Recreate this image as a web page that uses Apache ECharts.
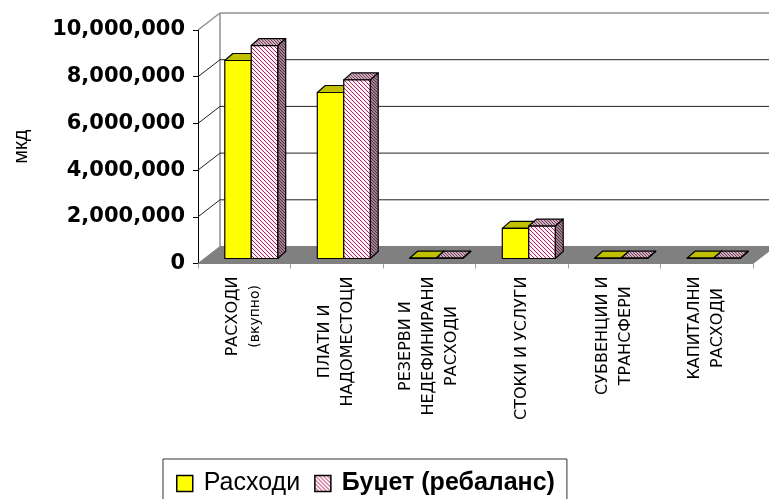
<!DOCTYPE html>
<html>
<head>
<meta charset="utf-8">
<script src="https://cdn.jsdelivr.net/npm/echarts@6/dist/echarts.min.js"></script>
<style>
  * { margin: 0; padding: 0; }
  body { background: #fff; }
  #chart { width: 769px; height: 499px; }
</style>
</head>
<body>
<div id="chart"></div>
<script>
// податоци
var categories = ['РАСХОДИ\n(вкупно)', 'ПЛАТИ И\nНАДОМЕСТОЦИ', 'РЕЗЕРВИ И\nНЕДЕФИНИРАНИ\nРАСХОДИ',
  'СТОКИ И УСЛУГИ', 'СУБВЕНЦИИ И\nТРАНСФЕРИ', 'КАПИТАЛНИ\nРАСХОДИ'];
var rashodi = [8480000, 7110000, 20000, 1290000, 20000, 20000];
var budzet = [9120000, 7650000, 20000, 1390000, 20000, 20000];
var yTicks = [0, 2000000, 4000000, 6000000, 8000000, 10000000];
var seriesNames = ['Расходи', 'Буџет (ребаланс)'];

// 3D offsets (wall depth and bar position/depth)
var WALL_DX = 22, WALL_DY = -17;
var BAR_SX = 7, BAR_SY = -5;
var BAR_DX = 8, BAR_DY = -7;

function hatch(bg, fg, n) {
  var c = document.createElement('canvas');
  c.width = n; c.height = n;
  var ctx = c.getContext('2d');
  ctx.fillStyle = bg;
  ctx.fillRect(0, 0, n, n);
  ctx.fillStyle = fg;
  for (var i = 0; i < n; i++) ctx.fillRect(i, i, 1, 1);
  return { image: c, repeat: 'repeat' };
}

var faces = [
  { front: '#ffff00', top: '#c0c000', side: '#808000' },
  { front: hatch('#fff4f8', '#b02060', 4), top: hatch('#c8b0bc', '#7a3a58', 3), side: hatch('#a08090', '#5a3046', 3) }
];

function barItem(k) {
  return function (params, api) {
    var i = api.value(0), v = api.value(1);
    var base = api.coord([i, 0]);
    var topP = api.coord([i, v]);
    var w = api.size([1, 0])[0] * 0.286;
    var x = base[0] + BAR_SX + (k === 0 ? -w : 0);
    var y0 = base[1] + BAR_SY, y1 = topP[1] + BAR_SY;
    var line = { stroke: '#000', lineWidth: 1.2, lineJoin: 'round' };
    var f = faces[k];
    return {
      type: 'group',
      children: [
        { type: 'polygon', shape: { points: [[x + w, y0], [x + w + BAR_DX, y0 + BAR_DY], [x + w + BAR_DX, y1 + BAR_DY], [x + w, y1]] },
          style: Object.assign({ fill: f.side }, line) },
        { type: 'polygon', shape: { points: [[x, y1], [x + w, y1], [x + w + BAR_DX, y1 + BAR_DY], [x + BAR_DX, y1 + BAR_DY]] },
          style: Object.assign({ fill: f.top }, line) },
        { type: 'rect', shape: { x: x, y: y1, width: w, height: y0 - y1 },
          style: Object.assign({ fill: f.front }, line) }
      ]
    };
  };
}

function wallItem(params, api) {
  var v = api.value(1);
  var cs = params.coordSys;
  var x0 = cs.x, x1 = cs.x + cs.width;
  var y = api.coord([0, v])[1];
  var top = api.coord([0, yTicks[yTicks.length - 1]])[1];
  var isTop = v === yTicks[yTicks.length - 1];
  var children = [];
  if (v === 0) {
    children.push({ type: 'polygon',
      shape: { points: [[x0, y], [x1, y], [x1 + WALL_DX, y + WALL_DY], [x0 + WALL_DX, y + WALL_DY]] },
      style: { fill: '#808080', stroke: '#808080', lineWidth: 1 } });
    children.push({ type: 'line',
      shape: { x1: x0 + WALL_DX, y1: y + WALL_DY, x2: x0 + WALL_DX, y2: top + WALL_DY },
      style: { stroke: '#909090', lineWidth: 1.5 } });
  } else {
    children.push({ type: 'line',
      shape: { x1: x0 + WALL_DX, y1: y + WALL_DY, x2: x1 + WALL_DX, y2: y + WALL_DY },
      style: { stroke: isTop ? '#909090' : '#222', lineWidth: isTop ? 1.5 : 1 } });
    children.push({ type: 'line',
      shape: { x1: x0, y1: y, x2: x0 + WALL_DX, y2: y + WALL_DY },
      style: { stroke: isTop ? '#909090' : '#222', lineWidth: isTop ? 1.5 : 1 } });
  }
  return { type: 'group', children: children };
}

var chart = echarts.init(document.getElementById('chart'), null, { renderer: 'canvas' });
chart.setOption({
  backgroundColor: '#fff',
  animation: false,
  grid: { left: 198, right: 16, top: 30, bottom: 235.5, containLabel: false, outerBoundsMode: 'none' },
  legend: {
    left: 163, top: 459,
    icon: 'rect',
    itemWidth: 16, itemHeight: 16, itemGap: 14,
    padding: [12, 12, 30, 13],
    borderColor: '#333', borderWidth: 1,
    textStyle: { fontFamily: 'Liberation Sans', fontSize: 25, color: '#000', padding: [0, 0, 0, 6] },
    data: [
      { name: seriesNames[0], itemStyle: { color: '#ffff00', borderColor: '#000', borderWidth: 1.5 } },
      { name: seriesNames[1], itemStyle: { color: faces[1].front, borderColor: '#000', borderWidth: 1.5 },
        textStyle: { fontWeight: 'bold' } }
    ]
  },
  xAxis: {
    type: 'category',
    data: categories,
    axisLine: { lineStyle: { color: '#808080', width: 1 } },
    axisTick: { show: true, length: 5, lineStyle: { color: '#a0a0a0' } },
    axisLabel: {
      interval: 0, rotate: 90, margin: 13,
      formatter: function (s) {
        return s.split('\n').map(function (l) {
          return (l.charAt(0) === '(' ? '{s|' : '{c|') + l + '}';
        }).join('\n');
      },
      rich: {
        c: { align: 'center', fontFamily: 'DejaVu Sans', fontSize: 16, lineHeight: 23, color: '#000' },
        s: { align: 'center', fontFamily: 'DejaVu Sans', fontSize: 14, lineHeight: 23, color: '#000' }
      }
    }
  },
  yAxis: {
    type: 'value',
    min: 0, max: 10000000, interval: 2000000,
    name: 'мкд',
    nameLocation: 'middle', nameRotate: 90, nameGap: 167,
    nameTextStyle: { fontFamily: 'Liberation Sans', fontSize: 20, color: '#000' },
    axisLine: { show: true, lineStyle: { color: '#000', width: 1 } },
    axisTick: { show: true, length: 5, lineStyle: { color: '#000' } },
    splitLine: { show: false },
    axisLabel: {
      margin: 13,
      fontFamily: 'DejaVu Sans', fontWeight: 'bold', fontSize: 21, color: '#000',
      formatter: function (v) { return v.toLocaleString('en-US'); }
    }
  },
  series: [
    {
      type: 'custom', name: 'walls', z: 1, silent: true,
      renderItem: wallItem,
      encode: { x: 0, y: 1 },
      data: yTicks.map(function (v) { return [0, v]; })
    },
    {
      type: 'custom', name: seriesNames[0], z: 3,
      itemStyle: { color: '#ffff00' },
      renderItem: barItem(0),
      encode: { x: 0, y: 1 },
      data: rashodi.map(function (v, i) { return [i, v]; })
    },
    {
      type: 'custom', name: seriesNames[1], z: 4,
      itemStyle: { color: faces[1].front },
      renderItem: barItem(1),
      encode: { x: 0, y: 1 },
      data: budzet.map(function (v, i) { return [i, v]; })
    }
  ]
});
</script>
</body>
</html>
